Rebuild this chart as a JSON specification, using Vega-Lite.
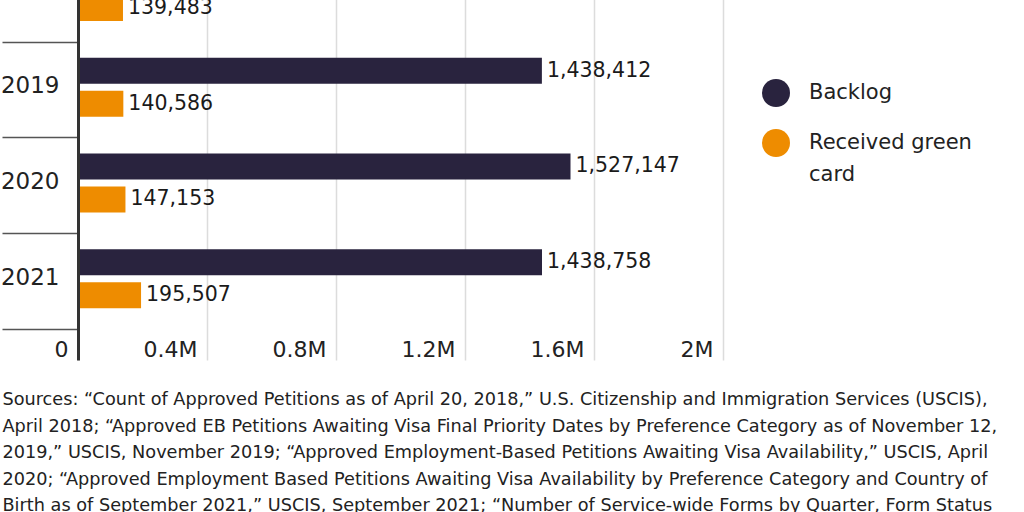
{
  "$schema": "https://vega.github.io/schema/vega-lite/v6.json",
  "width": 645,
  "height": 414,
  "autosize": {"type": "none"},
  "padding": {"left": 78, "top": -54, "right": 301, "bottom": 152},
  "background": "white",
  "data": {
    "values": [
      {"year": "2018", "series": "Backlog", "value": 1200000},
      {"year": "2018", "series": "Received green card", "value": 139483},
      {"year": "2019", "series": "Backlog", "value": 1438412},
      {"year": "2019", "series": "Received green card", "value": 140586},
      {"year": "2020", "series": "Backlog", "value": 1527147},
      {"year": "2020", "series": "Received green card", "value": 147153},
      {"year": "2021", "series": "Backlog", "value": 1438758},
      {"year": "2021", "series": "Received green card", "value": 195507}
    ]
  },
  "title": {
    "text": [
      "Sources: “Count of Approved Petitions as of April 20, 2018,” U.S. Citizenship and Immigration Services (USCIS),",
      "April 2018; “Approved EB Petitions Awaiting Visa Final Priority Dates by Preference Category as of November 12,",
      "2019,” USCIS, November 2019; “Approved Employment-Based Petitions Awaiting Visa Availability,” USCIS, April",
      "2020; “Approved Employment Based Petitions Awaiting Visa Availability by Preference Category and Country of",
      "Birth as of September 2021,” USCIS, September 2021; “Number of Service-wide Forms by Quarter, Form Status"
    ],
    "orient": "bottom",
    "anchor": "start",
    "frame": "bounds",
    "font": "DejaVu Sans",
    "fontSize": 17.7,
    "fontWeight": "normal",
    "color": "#222222",
    "lineHeight": 26.5,
    "offset": 31,
    "baseline": "top",
    "dx": 2
  },
  "encoding": {
    "y": {
      "field": "year",
      "type": "nominal",
      "title": null,
      "scale": {"domain": ["2018", "2019", "2020", "2021"], "paddingInner": 0, "paddingOuter": 0.162, "align": 0},
      "axis": {
        "zindex": 1,
        "domain": true,
        "domainColor": "#333333",
        "domainWidth": 3,
        "ticks": true,
        "tickBand": "extent",
        "tickSize": 76,
        "tickColor": "#555555",
        "tickWidth": 1.5,
        "labelPadding": -57,
        "labelFont": "DejaVu Sans",
        "labelFontSize": 23,
        "labelColor": "#222222",
        "labelBaseline": "middle",
        "labelOffset": -4,
        "grid": false
      }
    },
    "yOffset": {
      "field": "series",
      "type": "nominal",
      "scale": {"domain": ["Backlog", "Received green card"], "paddingInner": 0.212, "paddingOuter": 0.557, "align": 0.435}
    },
    "x": {
      "field": "value",
      "type": "quantitative",
      "title": null,
      "scale": {"domain": [0, 2000000], "nice": false},
      "axis": {
        "orient": "bottom",
        "domain": false,
        "ticks": false,
        "tickSize": 0,
        "grid": true,
        "gridColor": "#dcdcdc",
        "gridWidth": 1.5,
        "values": [0, 400000, 800000, 1200000, 1600000, 2000000],
        "labelExpr": "datum.value == 0 ? '0' : format(datum.value / 1000000, '.1~f') + 'M'",
        "labelAlign": "right",
        "labelOffset": -10,
        "labelBaseline": "alphabetic",
        "labelPadding": -4,
        "labelFont": "DejaVu Sans",
        "labelFontSize": 22,
        "labelColor": "#222222",
        "labelFlush": false,
        "labelOverlap": false
      }
    }
  },
  "layer": [
    {
      "mark": {"type": "bar"},
      "encoding": {
        "color": {
          "field": "series",
          "type": "nominal",
          "scale": {"domain": ["Backlog", "Received green card"], "range": ["#29233e", "#ee8c00"]},
          "legend": {
            "orient": "none",
            "legendX": 684,
            "legendY": 133,
            "title": null,
            "padding": 0,
            "symbolType": "circle",
            "symbolSize": 784,
            "symbolStrokeWidth": 0,
            "symbolOpacity": 1,
            "labelFont": "DejaVu Sans",
            "labelFontSize": 21,
            "labelColor": "#222222",
            "labelOffset": 19,
            "labelLimit": 300,
            "rowPadding": 22,
            "labelExpr": "datum.label == 'Received green card' ? ['Received green', 'card'] : datum.label"
          }
        }
      }
    },
    {
      "mark": {"type": "text", "align": "left", "baseline": "middle", "dx": 5, "font": "DejaVu Sans", "fontSize": 20.5, "color": "#1a1a1a"},
      "encoding": {
        "text": {"field": "value", "type": "quantitative", "format": ","}
      }
    }
  ],
  "config": {
    "view": {"stroke": null},
    "style": {"guide-label": {"lineHeight": 32}}
  }
}
